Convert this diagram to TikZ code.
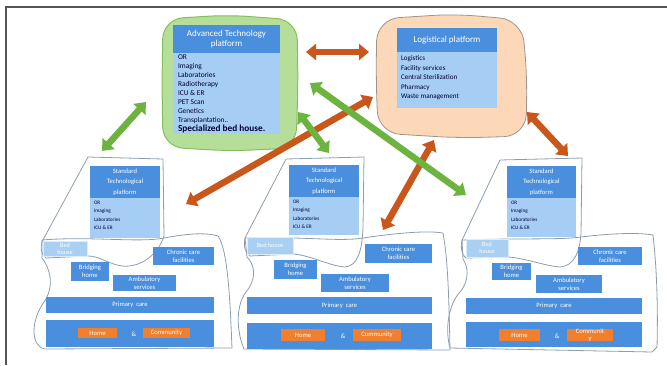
\documentclass[tikz,border=0pt]{standalone}
\usepackage{fontspec}
\setmainfont{Carlito}
\usetikzlibrary{arrows.meta}

\definecolor{boxblue}{HTML}{4A8FDD}
\definecolor{bodyblue}{HTML}{A6CDF4}
\definecolor{bedblue}{HTML}{A9CFF2}
\definecolor{blobgreen}{HTML}{B5DF98}
\definecolor{blobgreenline}{HTML}{86BE5E}
\definecolor{peach}{HTML}{FCD8B8}
\definecolor{peachline}{HTML}{A09488}
\definecolor{arrgreen}{HTML}{6DB33F}
\definecolor{arrorange}{HTML}{C9561A}
\definecolor{homeorange}{HTML}{F07F2E}
\definecolor{outline}{HTML}{8C9DB0}
\definecolor{framegray}{HTML}{555555}

% box placed by its corners: style, name, x1, y1, x2, y2, text
\newcommand\putbox[7]{%
  \node[#1, minimum width={(#5-#3)*1pt}, minimum height={(#6-#4)*1pt}]
    (#2) at ({(#3+#5)/2},{(#4+#6)/2}) {#7};}

\begin{document}
\begin{tikzpicture}[x=1pt,y=-1pt,
  boxbase/.style={inner sep=0pt, outer sep=0pt, align=center, text=white},
  bighdr/.style={boxbase, fill=boxblue, font=\fontsize{9}{10.5}\selectfont},
  listbody/.style={boxbase, fill=bodyblue},
  listtext/.style={inner sep=0pt, outer sep=0pt, align=left, text=black!80!blue},
  stdhdr/.style={boxbase, fill=boxblue, font=\fontsize{6.6}{10.5}\selectfont},
  stdbody/.style={boxbase, fill=bodyblue},
  stdtext/.style={inner sep=0pt, outer sep=0pt, align=left, text=black!75!blue,
    font=\fontsize{5.2}{8.4}\selectfont},
  carebox/.style={boxbase, fill=boxblue, font=\fontsize{6.6}{7.6}\selectfont},
  bedbox/.style={boxbase, fill=bedblue, draw=white!60!bedblue, line width=0.6pt,
    font=\fontsize{6.2}{7}\selectfont},
  homebox/.style={boxbase, fill=homeorange, font=\fontsize{6.6}{7}\selectfont},
  amp/.style={inner sep=0pt, text=white, font=\fontsize{6.6}{7}\selectfont},
  clusterline/.style={draw=outline, line width=0.8pt},
  garrow/.style={draw=arrgreen, line width=6.5pt,
    arrows={Triangle[width=16pt,length=10pt]-Triangle[width=16pt,length=10pt]}},
  oarrow/.style={draw=arrorange, line width=6.5pt,
    arrows={Triangle[width=16pt,length=10pt]-Triangle[width=16pt,length=10pt]}},
]
\useasboundingbox (0,0) rectangle (667,365);

% frame edges
\draw[framegray, line width=1.6pt] (6,365) -- (6,7) -- (667,7);

% ---------- Advanced Technology platform ----------
\fill[blobgreen, draw=blobgreenline, line width=1pt, rounded corners=20pt]
  (163,19) -- (228,15) -- (297,20) -- (298,85) -- (296,148) -- (230,151)
  -- (163,147) -- (162,85) -- cycle;
\putbox{bighdr}{atp-hdr}{173}{25}{280}{53}{Advanced Technology\\platform}
\putbox{listbody}{atp-body}{173}{53}{280}{134}{}
\node[listtext, anchor=north west, font=\fontsize{7.4}{8.9}\selectfont]
  (atp-items) at ([xshift=5pt,yshift=-2pt]atp-body.north west)
  {OR\\Imaging\\Laboratories\\Radiotherapy\\ICU \& ER\\PET Scan\\Genetics\\Transplantation..\\
   {\fontsize{9.3}{9}\selectfont\bfseries Specialized bed house.}};

% ---------- Logistical platform ----------
\fill[peach, draw=peachline, line width=0.8pt, rounded corners=22pt]
  (377,19) -- (455,14) -- (522,20) -- (527,75) -- (526,136) -- (460,138)
  -- (378,133) -- (376,75) -- cycle;
\putbox{bighdr}{lp-hdr}{397}{28}{497}{52}{Logistical platform}
\putbox{listbody}{lp-body}{397}{52}{497}{108}{}
\node[listtext, anchor=north west, font=\fontsize{7.1}{9.5}\selectfont]
  (lp-items) at ([xshift=4pt,yshift=-4pt]lp-body.north west)
  {Logistics\\Facility services\\Central Sterilization\\Pharmacy\\Waste management};

% ---------- left care cluster ----------
\draw[clusterline] (88,157) -- (163,159) -- (164,236)
  .. controls (158,255) and (140,268) .. (122,266)
  .. controls (108,264) and (100,256) .. (88,256) -- (46,258)
  .. controls (40,254) and (40,244) .. (44,238) -- cycle;
\draw[clusterline] (42,240) .. controls (90,236) and (140,243) .. (164,238)
  .. controls (185,234) and (205,232) .. (218,236)
  .. controls (228,250) and (230,300) .. (232,348) -- (45,349)
  .. controls (30,346) and (31,320) .. (44,302)
  .. controls (55,286) and (50,268) .. (42,258) -- cycle;
\putbox{stdhdr}{L-hdr}{90}{166}{160}{198}{Standard\\Technological\\platform}
\putbox{stdbody}{L-body}{90}{198}{160}{238}{}
\node[stdtext, anchor=north west] (L-items) at ([xshift=4pt,yshift=-3pt]L-body.north west)
  {OR\\Imaging\\Laboratories\\ICU \& ER};
\putbox{bedbox}{L-bed}{43}{241}{87}{256}{Bed\\house}
\putbox{carebox}{L-chronic}{153}{247}{214}{265}{Chronic care\\facilities}
\putbox{carebox}{L-bridge}{71}{262}{109}{281}{Bridging\\home}
\putbox{carebox}{L-amb}{113}{275}{176}{291}{Ambulatory\\services}
\putbox{carebox}{L-prim}{46}{297}{214}{313}{Primary\ \ care}
\putbox{carebox}{L-base}{46}{320}{214}{347}{}
\putbox{homebox}{L-home}{78}{328}{117}{338}{Home}
\putbox{homebox}{L-comm}{143}{328}{190}{338}{Community}
\node[amp] (L-amp) at (134,334) {\&};

% ---------- middle care cluster ----------
\draw[clusterline] (286,159) -- (364,157) -- (363,228)
  .. controls (362,250) and (358,266) .. (345,267)
  .. controls (330,266) and (312,256) .. (294,254) -- (250,256)
  .. controls (244,252) and (243,242) .. (246,236) -- cycle;
\draw[clusterline] (245,238) .. controls (300,236) and (340,242) .. (363,238)
  .. controls (390,234) and (425,230) .. (443,233)
  .. controls (448,260) and (449,300) .. (450,350) -- (244,349)
  .. controls (236,330) and (236,305) .. (246,292)
  .. controls (256,280) and (256,266) .. (247,257) -- cycle;
\putbox{stdhdr}{M-hdr}{289}{165}{359}{197}{Standard\\Technological\\platform}
\putbox{stdbody}{M-body}{289}{197}{359}{235}{}
\node[stdtext, anchor=north west] (M-items) at ([xshift=4pt,yshift=-3pt]M-body.north west)
  {OR\\Imaging\\Laboratories\\ICU \& ER};
\putbox{bedbox}{M-bed}{247}{237}{293}{254}{Bed house}
\putbox{carebox}{M-chronic}{365}{244}{432}{263}{Chronic care\\facilities}
\putbox{carebox}{M-bridge}{274}{260}{317}{279}{Bridging\\home}
\putbox{carebox}{M-amb}{321}{274}{389}{292}{Ambulatory\\services}
\putbox{carebox}{M-prim}{247}{297}{432}{314}{Primary\ \ care}
\putbox{carebox}{M-base}{247}{323}{432}{349}{}
\putbox{homebox}{M-home}{281}{329}{325}{341}{Home}
\putbox{homebox}{M-comm}{353}{329}{401}{341}{Community}
\node[amp] (M-amp) at (343,336) {\&};

% ---------- right care cluster ----------
\draw[clusterline] (500,160) -- (582,158) -- (581,233)
  .. controls (580,252) and (574,266) .. (560,267)
  .. controls (545,266) and (525,258) .. (508,257) -- (466,258)
  .. controls (461,254) and (460,244) .. (463,238) -- cycle;
\draw[clusterline] (462,240) .. controls (520,238) and (560,240) .. (581,237)
  .. controls (605,234) and (635,232) .. (653,235)
  .. controls (657,270) and (658,310) .. (657,347) -- (652,352) -- (450,348)
  .. controls (445,330) and (448,305) .. (460,292)
  .. controls (470,280) and (468,266) .. (463,259) -- cycle;
\putbox{stdhdr}{R-hdr}{507}{166}{576}{198}{Standard\\Technological\\platform}
\putbox{stdbody}{R-body}{507}{198}{576}{237}{}
\node[stdtext, anchor=north west] (R-items) at ([xshift=4pt,yshift=-3pt]R-body.north west)
  {OR\\Imaging\\Laboratories\\ICU \& ER};
\putbox{bedbox}{R-bed}{466}{239}{508}{257}{Bed\\house}
\putbox{carebox}{R-chronic}{578}{247}{642}{265}{Chronic care\\facilities}
\putbox{carebox}{R-bridge}{492}{263}{531}{280}{Bridging\\home}
\putbox{carebox}{R-amb}{536}{275}{602}{293}{Ambulatory\\services}
\putbox{carebox}{R-prim}{466}{298}{642}{314}{Primary\ \ care}
\putbox{carebox}{R-base}{466}{322}{642}{347}{}
\putbox{homebox}{R-home}{499}{329}{540}{341}{Home}
\putbox{homebox}{R-comm}{567}{329}{613}{341}{Communit\\y}
\node[amp] (R-amp) at (557,336) {\&};

% ---------- connector end points ----------
\coordinate (top-l) at (306,52);
\coordinate (top-r) at (369,52);
\coordinate (ol-a) at (373,97);
\coordinate (ol-b) at (186,204);
\coordinate (om-a) at (434,140);
\coordinate (om-b) at (383,230);
\coordinate (or-a) at (527,112);
\coordinate (or-b) at (568,156);
\coordinate (gl-a) at (146,102);
\coordinate (gl-b) at (102,151);
\coordinate (gm-a) at (298,112);
\coordinate (gm-b) at (329,153);
\coordinate (gx-a) at (310,83);
\coordinate (gx-b) at (466,195);

% ---------- connectors ----------
\draw[oarrow] (top-l) -- (top-r);
\draw[oarrow] (ol-a) -- (ol-b);
\draw[oarrow] (om-a) -- (om-b);
\draw[oarrow] (or-a) -- (or-b);
\draw[garrow] (gl-a) -- (gl-b);
\draw[garrow] (gm-a) -- (gm-b);
\draw[garrow] (gx-a) -- (gx-b);
\end{tikzpicture}
\end{document}
